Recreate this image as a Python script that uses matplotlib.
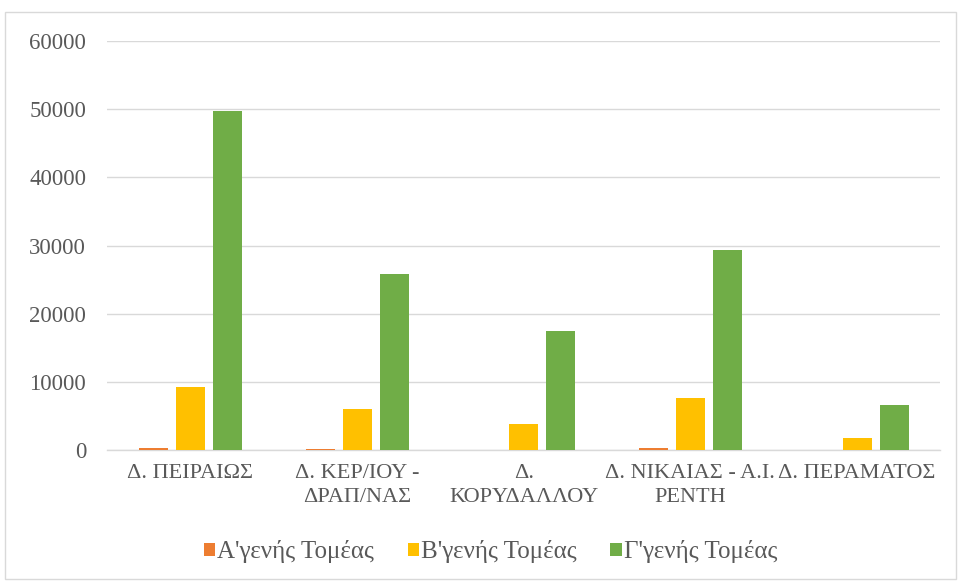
import matplotlib.pyplot as plt
import numpy as np
from matplotlib.patches import Rectangle

plt.rcParams['font.family'] = ['Liberation Serif', 'DejaVu Serif']

categories = ['Δ. ΠΕΙΡΑΙΩΣ', 'Δ. ΚΕΡ/ΙΟΥ -\nΔΡΑΠ/ΝΑΣ', 'Δ.\nΚΟΡΥΔΑΛΛΟΥ',
              'Δ. ΝΙΚΑΙΑΣ - Α.Ι.\nΡΕΝΤΗ', 'Δ. ΠΕΡΑΜΑΤΟΣ']
a_values = [280, 150, 60, 260, 30]
b_values = [9250, 5980, 3880, 7560, 1730]
c_values = [49700, 25800, 17450, 29300, 6600]
series_names = ["Α'γενής Τομέας", "Β'γενής Τομέας", "Γ'γενής Τομέας"]
colors = ['#ED7D31', '#FFC000', '#70AD47']
yticks = [0, 10000, 20000, 30000, 40000, 50000, 60000]

fig = plt.figure(figsize=(9.58, 5.81), dpi=100)
ax = fig.add_axes([0.1117, 0.2255, 0.870, 0.7035])

x = np.arange(len(categories))
w = 0.174
for i, (vals, name, col) in enumerate(zip([a_values, b_values, c_values], series_names, colors)):
    ax.bar(x + (i - 1) * 0.222, vals, w, color=col, label=name, zorder=3)

ax.set_xlim(-0.5, len(categories) - 0.5)
ax.set_ylim(0, 60000)
ax.set_yticks(yticks)
ax.set_yticklabels([str(v) for v in yticks], fontsize=16.5)
ax.set_xticks(x)
ax.set_xticklabels(categories, linespacing=1.4, fontsize=16)
ax.tick_params(axis='both', length=0, labelcolor='#595959')
ax.tick_params(axis='x', pad=10)
ax.tick_params(axis='y', pad=15)
ax.grid(axis='y', color='#d9d9d9', linewidth=1, zorder=0)
for s in ['top', 'right', 'left']:
    ax.spines[s].set_visible(False)
ax.spines['bottom'].set_color('#d9d9d9')
ax.spines['bottom'].set_linewidth(1)

fig.legend(loc='center', bbox_to_anchor=(0.512, 0.05), ncol=3, frameon=False,
           fontsize=18, labelcolor='#595959', handlelength=0.45, handleheight=0.45,
           handletextpad=0.08, columnspacing=1.35)

fig.patches.append(Rectangle((0.005, 0.003), 0.993, 0.976, transform=fig.transFigure,
                             fill=False, edgecolor='#d9d9d9', linewidth=1))

fig.savefig('out.png', dpi=100)
